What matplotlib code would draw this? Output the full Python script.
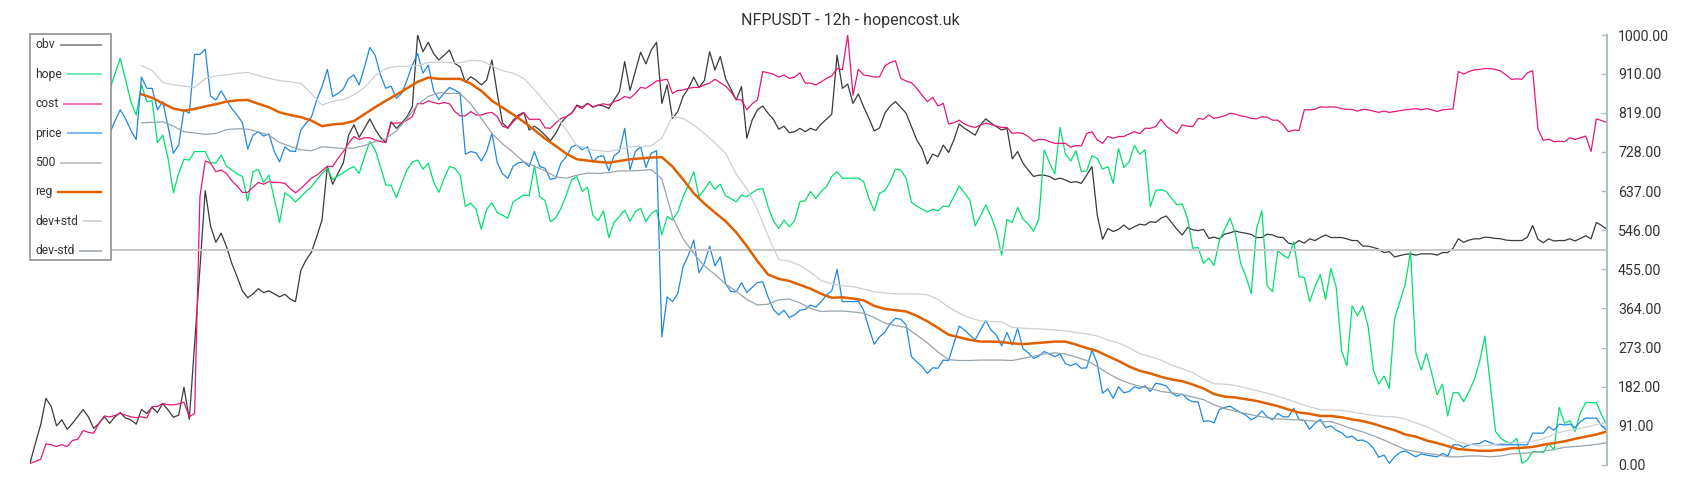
import matplotlib
matplotlib.use("Agg")
import matplotlib.pyplot as plt
import numpy as np
from matplotlib.lines import Line2D
from matplotlib.patches import Rectangle

plt.rcParams['font.family'] = ['Roboto', 'DejaVu Sans']

# one value per 12h candle (298 candles)
obv = [4, 50, 93, 155, 136, 91, 105, 83, 97, 113, 129, 112, 85, 97, 112, 97, 112, 122, 109, 105,
       95, 129, 120, 134, 122, 143, 128, 111, 116, 181, 106, 281, 457, 638, 556, 518, 539, 508, 469, 438,
       405, 389, 398, 410, 401, 405, 398, 391, 397, 386, 380, 452,
       477, 495, 531, 570, 694, 653, 678, 702, 767, 791, 762, 783, 805, 781, 762, 750, 798, 783, 795, 810,
       833, 1000, 961, 983, 957, 942, 953, 965, 934, 926, 890, 903, 895, 884, 895, 942, 864, 795, 784, 802,
       814, 820, 779, 788, 779, 767, 754, 771,
       795, 810, 818, 837, 832, 841, 832, 837, 835, 829, 849, 868, 938, 871, 915, 960, 933, 965, 983, 841,
       884, 806, 822, 857, 876, 902, 878, 894, 961, 919, 950, 899, 874, 849, 880, 760, 802, 826, 835, 818,
       804, 781, 788, 773, 775, 783, 775, 783, 778, 793, 804, 816, 953, 876, 886, 841, 863, 833,
       806, 777, 784, 818, 835, 845, 832, 818, 787, 756, 736, 700, 723, 717, 744, 727, 756, 793, 783, 775,
       767, 791, 805, 795, 787, 779, 783, 712, 729, 702, 686, 671, 674, 674, 671, 664, 667, 663, 657, 659,
       655, 674, 694, 581, 525, 550, 543, 548,
       558, 548, 554, 560, 558, 566, 564, 574, 579, 564, 548, 535, 552, 547, 545, 548, 527, 530, 526, 537,
       540, 544, 541, 539, 536, 529, 529, 537, 535, 530, 529, 516, 513, 522, 516, 526, 522, 529, 535, 529,
       529, 529, 526, 522, 522, 509, 509, 506, 502, 494, 496, 484, 487,
       490, 491, 488, 491, 491, 491, 488, 494, 494, 504, 526, 518, 523, 526, 526, 530, 529, 527, 526, 523,
       522, 522, 522, 530, 557, 525, 517, 526, 521, 522, 522, 526, 521, 527, 533, 526, 564, 557, 548]

hope = [850, 865, 880, 870, 860, 845, 855, 870, 885, 870, 860, 875, 890, 880, 870, 872, 910, 946, 895, 845,
        814, 884, 845, 847, 750, 767, 713, 633, 678, 711, 709, 729, 729, 729, 703, 702, 721, 695, 686, 677,
        671, 614, 682, 687, 657, 674, 620, 564, 633, 624, 612, 624,
        636, 647, 663, 678, 690, 664, 672, 680, 688, 694, 678, 717, 752, 733, 694, 651, 651, 622, 655, 686,
        705, 709, 688, 702, 659, 634, 667, 694, 690, 674, 601, 609, 595, 548, 595, 610, 587, 581, 574, 612,
        620, 628, 626, 696, 624, 615, 566, 574,
        597, 628, 663, 671, 636, 646, 581, 568, 591, 529, 564, 578, 593, 567, 589, 597, 566, 585, 593, 535,
        578, 570, 588, 624, 651, 682, 624, 641, 659, 641, 653, 626, 620, 612, 628, 624, 633, 641, 643, 601,
        568, 550, 570, 554, 568, 612, 615, 636, 620, 636, 647, 671, 682, 667, 667, 667, 667, 659,
        620, 591, 632, 638, 659, 688, 686, 667, 611, 602, 595, 588, 595, 591, 602, 601, 624, 649, 633, 616,
        556, 579, 605, 578, 544, 488, 571, 564, 599, 572, 560, 544, 572, 733, 703, 677, 785, 723, 707, 731,
        682, 684, 719, 713, 688, 694, 655, 736,
        692, 705, 743, 723, 733, 601, 638, 640, 636, 620, 605, 607, 574, 504, 506, 469, 481, 464, 523, 548,
        574, 539, 469, 438, 399, 550, 591, 416, 403, 498, 488, 481, 519, 438, 436, 380, 415, 443, 385, 457,
        413, 267, 230, 370, 347, 370, 323, 221, 188, 207, 178, 341,
        380, 421, 496, 260, 221, 260, 213, 163, 188, 114, 168, 168, 147, 171, 198, 240, 300, 190, 78, 62,
        54, 50, 62, 4, 12, 31, 31, 29, 50, 35, 134, 97, 103, 78, 122, 145, 145, 145, 116, 93]

cost = [4, 8, 13, 49, 47, 43, 47, 43, 57, 60, 80, 76, 74, 97, 114, 112, 115, 120, 116, 112,
        110, 112, 109, 136, 136, 143, 140, 140, 142, 146, 112, 120, 624, 707, 702, 682, 686, 678, 661, 649,
        634, 634, 646, 657, 653, 659, 657, 657, 655, 643, 633, 643,
        655, 667, 674, 684, 695, 694, 713, 729, 748, 764, 757, 761, 761, 756, 752, 750, 795, 795, 796, 802,
        810, 841, 840, 847, 843, 840, 843, 840, 822, 812, 812, 822, 814, 814, 818, 820, 810, 788, 783, 798,
        810, 819, 804, 804, 804, 784, 783, 795,
        806, 810, 818, 835, 829, 841, 833, 837, 840, 837, 845, 849, 857, 853, 864, 878, 876, 884, 893, 895,
        897, 864, 871, 872, 876, 878, 878, 884, 888, 897, 889, 881, 868, 850, 849, 826, 840, 849, 915, 912,
        909, 902, 907, 899, 902, 912, 888, 888, 884, 891, 899, 905, 922, 919, 1000, 860, 920, 907,
        905, 902, 903, 928, 936, 940, 899, 893, 889, 876, 860, 845, 855, 835, 841, 793, 796, 802, 793, 788,
        785, 791, 795, 792, 788, 785, 785, 771, 773, 771, 764, 753, 757, 757, 752, 748, 748, 748, 739, 743,
        742, 771, 775, 756, 748, 764, 760, 764,
        764, 770, 775, 771, 783, 783, 787, 804, 788, 779, 771, 791, 788, 787, 806, 804, 814, 806, 809, 812,
        818, 816, 812, 810, 806, 805, 810, 809, 802, 802, 791, 775, 779, 778, 826, 826, 827, 833, 832, 833,
        832, 829, 827, 827, 823, 827, 826, 823, 820, 823, 820, 822,
        824, 826, 827, 829, 826, 829, 826, 822, 826, 827, 828, 915, 909, 915, 919, 920, 922, 922, 920, 916,
        907, 897, 898, 897, 912, 917, 781, 755, 758, 752, 753, 752, 761, 757, 761, 765, 729, 805, 801, 796]

price = [820, 830, 845, 835, 815, 800, 810, 825, 805, 790, 800, 815, 805, 790, 780, 771, 800, 826, 805, 778,
         757, 902, 876, 876, 826, 845, 787, 725, 744, 826, 818, 955, 955, 967, 858, 849, 870, 849, 829, 814,
         796, 735, 767, 775, 765, 770, 729, 705, 740, 730, 729, 779,
         795, 809, 849, 880, 920, 857, 864, 874, 899, 907, 884, 926, 971, 953, 907, 876, 881, 853, 864, 895,
         930, 957, 911, 930, 871, 850, 865, 878, 872, 865, 723, 729, 726, 707, 729, 771, 703, 677, 667, 695,
         703, 705, 694, 729, 694, 690, 664, 667,
         702, 717, 740, 744, 733, 740, 705, 717, 719, 684, 719, 729, 783, 686, 729, 740, 692, 725, 731, 298,
         391, 380, 399, 461, 488, 523, 447, 469, 509, 463, 484, 422, 403, 403, 424, 401, 413, 424, 426, 391,
         362, 349, 360, 343, 349, 360, 362, 372, 367, 380, 395, 405, 455, 380, 380, 380, 381, 360,
         318, 281, 298, 309, 329, 341, 339, 326, 252, 240, 229, 213, 226, 225, 244, 243, 283, 323, 314, 302,
         291, 314, 336, 314, 302, 277, 308, 279, 318, 271, 261, 248, 253, 264, 258, 252, 258, 236, 231, 236,
         225, 226, 267, 236, 167, 177, 155, 182,
         168, 171, 182, 178, 184, 171, 190, 188, 184, 168, 160, 165, 153, 147, 147, 101, 103, 98, 129, 134,
         137, 129, 122, 116, 105, 112, 126, 112, 105, 120, 112, 112, 132, 106, 103, 83, 97, 106, 87, 91,
         81, 75, 64, 67, 57, 58, 52, 39, 18, 23, 4, 19,
         29, 33, 26, 19, 26, 23, 21, 19, 27, 21, 47, 47, 41, 47, 49, 50, 57, 52, 47, 47,
         47, 47, 47, 47, 47, 74, 74, 74, 89, 81, 95, 93, 95, 87, 101, 109, 109, 109, 91, 81]

# regression channel, read every 2nd candle starting at candle 21
band_start = 21
band_step = 2
reg = [862, 854, 841, 829, 824, 828, 834, 839, 845, 848, 849, 840, 832, 820, 814, 809,
       801, 788, 792, 794, 800, 816, 832, 847, 861, 876, 891, 901, 898, 898, 898, 887, 870, 847, 831, 815,
       798, 779, 759, 742, 724, 711,
       708, 705, 703, 707, 711, 713, 715, 716, 694, 664, 632, 608, 587, 567, 541, 509, 474, 443, 433, 428,
       419, 410, 398, 389, 390, 387,
       383, 370, 363, 360, 357, 347, 334, 319, 303, 297, 291, 287, 287, 286, 283, 281, 283, 285, 287, 287,
       280, 272, 265, 253, 242, 229,
       219, 213, 205, 199, 195, 187, 178, 165, 159, 157, 153, 149, 143, 137, 129, 122, 119, 114, 114, 111,
       106, 102, 96, 88, 81, 71,
       66, 57, 51, 44, 37, 35, 33, 33, 35, 39, 40, 42, 47, 51, 55, 61, 66, 71, 78]
dev_plus = [929, 917, 890, 884, 881, 878, 898, 905, 907, 911, 913, 906, 899, 894, 891, 888,
            864, 837, 846, 850, 861, 878, 905, 922, 927, 927, 929, 936, 937, 936, 935, 941, 940, 928, 917, 911,
            899, 873, 844, 814, 779, 743,
            735, 731, 729, 734, 740, 741, 742, 760, 811, 806, 791, 771, 749, 725, 676, 643, 594, 533, 478, 474,
            464, 448, 429, 421, 417, 415,
            409, 403, 400, 398, 398, 398, 396, 385, 367, 353, 342, 335, 334, 333, 320, 318, 317, 316, 314, 312,
            308, 305, 300, 290, 284, 273,
            259, 252, 244, 232, 224, 215, 200, 189, 188, 185, 179, 173, 167, 160, 152, 143, 135, 129, 128, 127,
            123, 119, 115, 113, 112, 107,
            98, 89, 78, 66, 54, 48, 44, 46, 50, 52, 52, 55, 61, 71, 79, 82, 88, 94, 99]
dev_minus = [796, 797, 798, 788, 775, 772, 769, 771, 780, 782, 781, 775, 767, 750, 741, 733,
             731, 740, 738, 736, 737, 743, 752, 759, 777, 806, 838, 857, 866, 864, 864, 840, 806, 771, 747, 727,
             705, 695, 684, 670, 667, 674,
             679, 678, 680, 684, 684, 685, 687, 665, 577, 526, 492, 463, 443, 421, 404, 385, 372, 374, 384, 386,
             377, 364, 357, 358, 358, 356,
             353, 343, 330, 324, 320, 302, 284, 263, 245, 243, 243, 244, 244, 244, 243, 248, 253, 258, 261, 258,
             251, 243, 229, 213, 200, 190,
             183, 178, 171, 168, 164, 158, 152, 140, 131, 125, 120, 114, 110, 107, 106, 105, 103, 101, 101, 93,
             84, 77, 68, 58, 47, 36,
             31, 27, 24, 19, 19, 21, 21, 19, 21, 26, 27, 29, 32, 36, 41, 43, 45, 48, 52]

level_500 = 500
yticks = [0, 91, 182, 273, 364, 455, 546, 637, 728, 819, 910, 1000]
title = 'NFPUSDT - 12h - hopencost.uk'

assert len(obv) == len(hope) == len(cost) == len(price), (len(obv), len(hope), len(cost), len(price))
assert len(reg) == len(dev_plus) == len(dev_minus), (len(reg), len(dev_plus), len(dev_minus))

c_obv = '#3a3a3a'
c_hope = '#00e070'
c_cost = '#e6177a'
c_price = '#1e88e5'
c_500 = '#c8c8c8'
c_reg = '#e06000'
c_plus = '#c9d1d6'
c_minus = '#98a4ac'

W, H = 1700, 500
fig = plt.figure(figsize=(W / 100, H / 100), dpi=100)
ax = fig.add_axes([30 / W, 35 / H, 1577 / W, 430 / H])

x = np.arange(len(price))
xb = np.arange(band_start, band_start + band_step * len(reg), band_step)

ax.plot(x, obv, color=c_obv, lw=0.9)
ax.plot(x, hope, color=c_hope, lw=0.9)
ax.plot(x, cost, color=c_cost, lw=0.9)
ax.plot(x, price, color=c_price, lw=0.9)
ax.axhline(level_500, color=c_500, lw=1.4)
ax.plot(xb, reg, color=c_reg, lw=1.8)
ax.plot(xb, dev_plus, color=c_plus, lw=0.9)
ax.plot(xb, dev_minus, color=c_minus, lw=0.9)

ax.set_xlim(0, len(price) - 1)
ax.set_ylim(0, 1000)
ax.yaxis.tick_right()
ax.set_yticks(yticks)
ax.set_yticklabels([f'{v:.2f}' for v in yticks])
ax.tick_params(axis='y', direction='in', length=4, width=1, color='#b0bec5',
               pad=8, labelsize=10.2, labelcolor='#333333')
ax.tick_params(axis='x', bottom=False, labelbottom=False)
for s in ['left', 'top', 'bottom']:
    ax.spines[s].set_visible(False)
ax.spines['right'].set_color('#b0bec5')
ax.spines['right'].set_linewidth(1.5)

fig.text(0.5, 1 - 20 / H, title, ha='center', va='center', fontsize=11.5, color='#333333')

# legend drawn by hand: label first, line sample to the right
def fx(px):
    return px / W

def fy(py):
    return 1 - py / H

box = Rectangle((fx(30), fy(260)), 81 / W, 226 / H, transform=fig.transFigure,
                facecolor='white', edgecolor='#888888', lw=1.1, zorder=10)
fig.add_artist(box)

entries = [('obv', c_obv, 1.4, 0.55), ('hope', c_hope, 1.4, 0.55), ('cost', c_cost, 1.4, 0.6),
           ('price', c_price, 1.4, 0.6), ('500', c_500, 1.4, 1.0), ('reg', c_reg, 1.7, 1.0),
           ('dev+std', c_plus, 1.4, 0.85), ('dev-std', c_minus, 1.4, 0.8)]
texts = []
for k, (lab, col, lw, al) in enumerate(entries):
    y = 45 + 29.4 * k
    t = fig.text(fx(35), fy(y), lab, ha='left', va='center', fontsize=8.7,
                 color='#333333', zorder=11)
    texts.append((t, y, col, lw, al))

fig.canvas.draw()
r = fig.canvas.get_renderer()
for t, y, col, lw, al in texts:
    bb = t.get_window_extent(r)
    fig.add_artist(Line2D([fx(bb.x1 + 6), fx(101)], [fy(y), fy(y)], transform=fig.transFigure,
                          color=col, lw=lw, alpha=al, zorder=11))

fig.savefig('out.png', dpi=100)
